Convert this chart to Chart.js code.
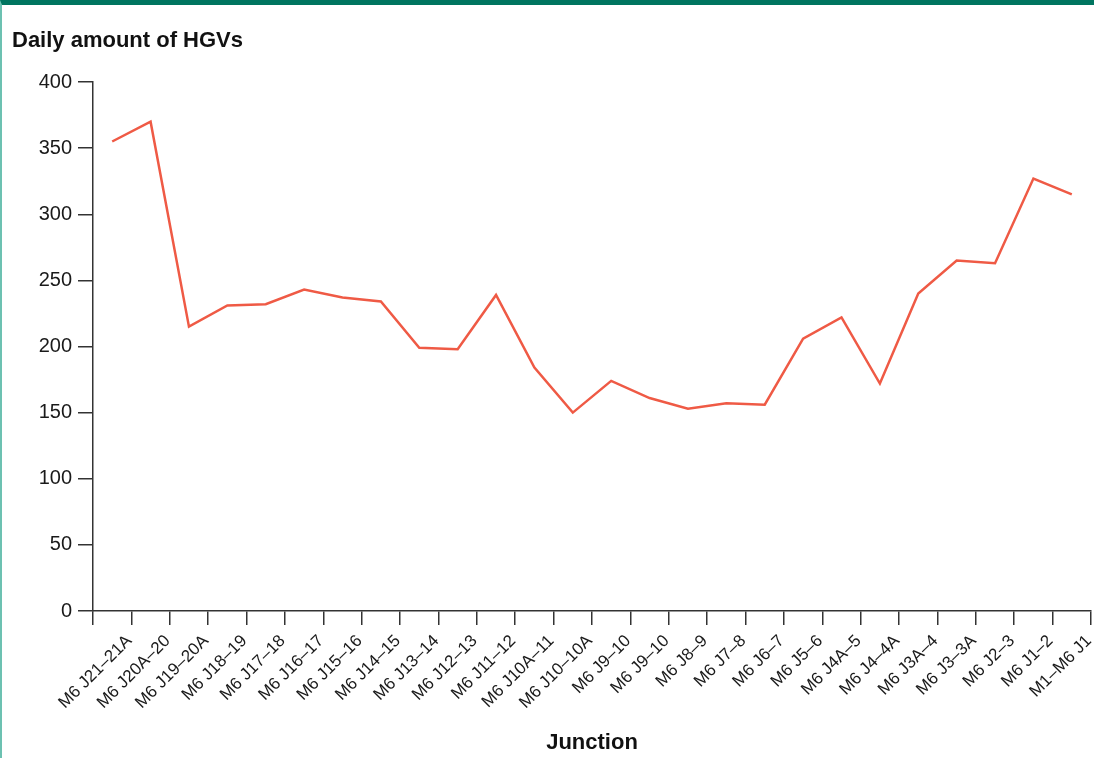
<!DOCTYPE html>
<html>
<head>
<meta charset="utf-8">
<script src="https://cdn.jsdelivr.net/npm/chart.js@4.4.0/dist/chart.umd.min.js"></script>
<style>
  html, body { margin: 0; padding: 0; background: #fff; }
  #wrap { position: absolute; left: 0; top: 0; width: 1092px; height: 753px;
          border-top: 5px solid #007560; border-left: 2px solid #6cc1b1; }
  canvas { display: block; }
</style>
</head>
<body>
<div id="wrap"><canvas id="c" width="1092" height="753"></canvas></div>
<script>
const junctions = [
  "M6 J21–21A", "M6 J20A–20", "M6 J19–20A", "M6 J18–19", "M6 J17–18", "M6 J16–17",
  "M6 J15–16", "M6 J14–15", "M6 J13–14", "M6 J12–13", "M6 J11–12", "M6 J10A–11",
  "M6 J10–10A", "M6 J9–10", "M6 J9–10", "M6 J8–9", "M6 J7–8", "M6 J6–7",
  "M6 J5–6", "M6 J4A–5", "M6 J4–4A", "M6 J3A–4", "M6 J3–3A", "M6 J2–3",
  "M6 J1–2", "M1–M6 J1"
];
const hgvs = [
  355, 370, 215, 231, 232, 243, 237, 234, 199, 198, 239, 184,
  150, 174, 161, 153, 157, 156, 206, 222, 172, 240, 265, 263,
  327, 315
];
const yTicks = [0, 50, 100, 150, 200, 250, 300, 350, 400];

const axisColor = '#333333';
const textColor = '#1a1a1a';
const fontFamily = '"Liberation Sans", Arial, Helvetica, sans-serif';

new Chart(document.getElementById('c'), {
  type: 'line',
  data: {
    labels: junctions,
    datasets: [{
      data: hgvs,
      borderColor: '#ef5a45',
      borderWidth: 2.5,
      pointRadius: 0,
      pointHoverRadius: 0,
      tension: 0,
      fill: false
    }]
  },
  options: {
    responsive: false,
    animation: false,
    devicePixelRatio: 1,
    layout: { padding: { left: 10, right: 3, top: 0, bottom: 0 } },
    plugins: {
      legend: { display: false },
      tooltip: { enabled: false },
      title: {
        display: true,
        text: 'Daily amount of HGVs',
        align: 'start',
        color: '#111',
        font: { family: fontFamily, size: 22, weight: 'bold' },
        padding: { top: 23, bottom: 27.6 }
      }
    },
    scales: {
      x: {
        type: 'category',
        offset: true,
        grid: {
          display: true,
          offset: true,
          drawOnChartArea: false,
          drawTicks: true,
          tickLength: 14,
          color: axisColor,
          lineWidth: 1.5
        },
        border: { display: true, color: axisColor, width: 1.5 },
        ticks: {
          autoSkip: false,
          minRotation: 45,
          maxRotation: 45,
          labelOffset: 17,
          padding: 6,
          color: textColor,
          font: { family: fontFamily, size: 17 }
        },
        title: {
          display: true,
          text: 'Junction',
          color: '#111',
          font: { family: fontFamily, size: 22, weight: 'bold' },
          padding: { top: 0, bottom: 2 }
        },
        afterFit: (s) => { s.height = 147; }
      },
      y: {
        min: 0,
        max: 400,
        afterBuildTicks: (s) => { s.ticks = yTicks.map(v => ({ value: v })); },
        grid: {
          display: true,
          drawOnChartArea: false,
          drawTicks: true,
          tickLength: 15,
          color: axisColor,
          lineWidth: 1.5
        },
        border: { display: true, color: axisColor, width: 1.5 },
        ticks: {
          padding: 6,
          color: textColor,
          font: { family: fontFamily, size: 20 }
        },
        afterFit: (s) => { s.width = 81; }
      }
    }
  }
});
</script>
</body>
</html>
